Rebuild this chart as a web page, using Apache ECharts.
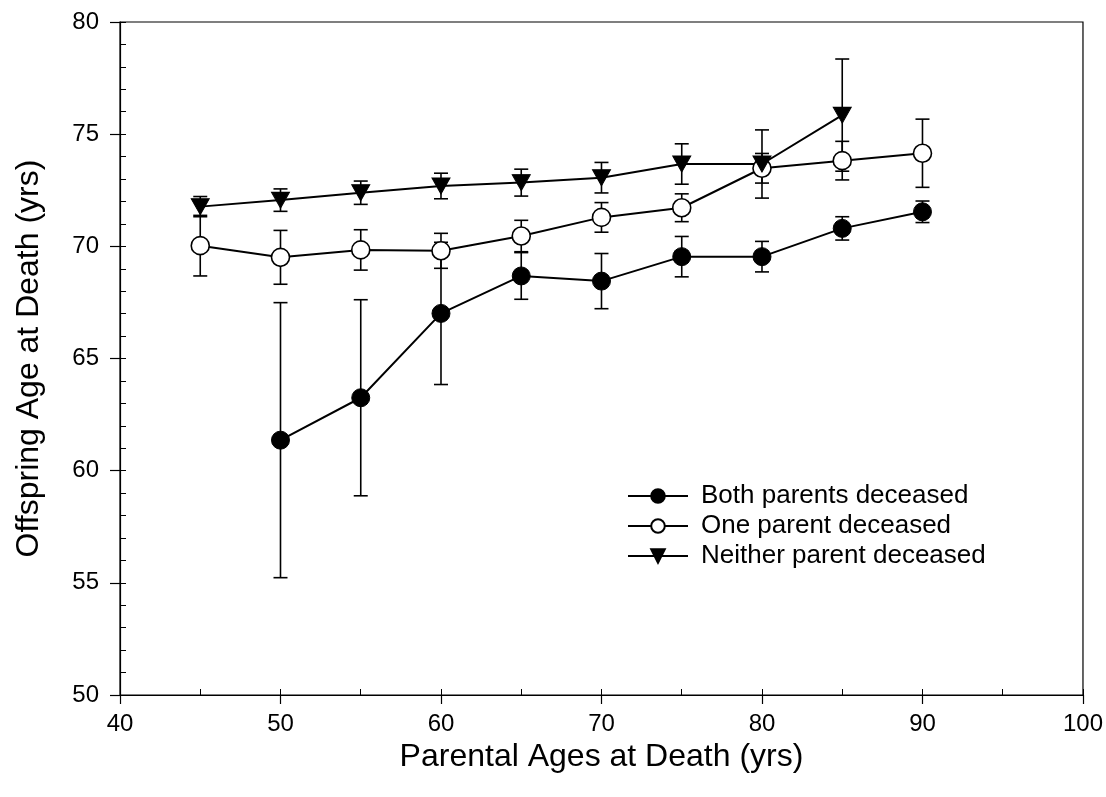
<!DOCTYPE html>
<html>
<head>
<meta charset="utf-8">
<script src="https://cdn.jsdelivr.net/npm/echarts@6/dist/echarts.min.js"></script>
<style>
html,body{margin:0;padding:0;background:#fff;}
#chart{width:1106px;height:797px;}
</style>
</head>
<body>
<div id="chart"></div>
<script>
const xVals = [45, 50, 55, 60, 65, 70, 75, 80, 85, 90];
const bothX = [50, 55, 60, 65, 70, 75, 80, 85, 90];
const bothVals = [61.36, 63.25, 67.01, 68.68, 68.45, 69.54, 69.54, 70.80, 71.54];
const bothErr = [6.13, 4.37, 3.17, 1.04, 1.23, 0.90, 0.68, 0.52, 0.48];
const oneVals = [70.03, 69.51, 69.84, 69.80, 70.46, 71.29, 71.72, 73.48, 73.82, 74.15];
const oneErr = [1.35, 1.20, 0.90, 0.78, 0.70, 0.66, 0.62, 0.66, 0.86, 1.52];
const neitherX = [45, 50, 55, 60, 65, 70, 75, 80, 85];
const neitherVals = [71.77, 72.06, 72.39, 72.69, 72.84, 73.06, 73.67, 73.67, 75.85];
const neitherErr = [0.45, 0.50, 0.52, 0.57, 0.60, 0.68, 0.90, 1.52, 2.50];
const seriesNames = ['Both parents deceased', 'One parent deceased', 'Neither parent deceased'];

const FONT = '"Liberation Sans", Arial, sans-serif';

function pairs(xs, ys) { return xs.map((x, i) => [x, ys[i]]); }
function errData(xs, ys, es) { return xs.map((x, i) => [x, ys[i] - es[i], ys[i] + es[i]]); }

function errSeries(data) {
  return {
    type: 'custom',
    xAxisIndex: 0, yAxisIndex: 0,
    silent: true,
    z: 1,
    data: data,
    renderItem: function (params, api) {
      const x = api.value(0);
      const lo = api.coord([x, api.value(1)]);
      const hi = api.coord([x, api.value(2)]);
      const w = 7;
      const st = { stroke: '#000', lineWidth: 1.6 };
      return {
        type: 'group',
        children: [
          { type: 'line', shape: { x1: lo[0], y1: lo[1], x2: hi[0], y2: hi[1] }, style: st },
          { type: 'line', shape: { x1: lo[0] - w, y1: lo[1], x2: lo[0] + w, y2: lo[1] }, style: st },
          { type: 'line', shape: { x1: hi[0] - w, y1: hi[1], x2: hi[0] + w, y2: hi[1] }, style: st }
        ]
      };
    }
  };
}

const chart = echarts.init(document.getElementById('chart'), null, { renderer: 'canvas' });
const gridPos = { left: 120, right: 23, top: 22, bottom: 102 };

chart.setOption({
  backgroundColor: '#fff',
  animation: false,
  grid: Object.assign({ show: true, borderColor: '#000', borderWidth: 1.2, backgroundColor: 'transparent' }, gridPos),
  legend: {
    data: seriesNames,
    orient: 'vertical',
    left: 622,
    top: 478,
    itemWidth: 60,
    itemHeight: 17,
    itemGap: 4,
    textStyle: { fontFamily: FONT, fontSize: 26, lineHeight: 26, color: '#000', padding: [0, 0, 0, 8] },
    selectedMode: false
  },
  xAxis: [
    {
      type: 'value', min: 40, max: 100, interval: 10,
      name: 'Parental Ages at Death (yrs)',
      nameLocation: 'middle', nameGap: 42,
      nameTextStyle: { fontFamily: FONT, fontSize: 32, color: '#000' },
      axisLine: { show: true, lineStyle: { color: '#000', width: 1.2 } },
      axisTick: { show: true, inside: false, length: 9, lineStyle: { color: '#000', width: 1.2 } },
      axisLabel: { fontFamily: FONT, fontSize: 24, color: '#000', margin: 17 },
      splitLine: { show: false }
    },
    {
      type: 'value', min: 40, max: 100, interval: 5,
      position: 'bottom',
      axisLine: { show: false },
      axisTick: { show: true, inside: true, length: 6, lineStyle: { color: '#000', width: 1 } },
      axisLabel: { show: false },
      splitLine: { show: false }
    }
  ],
  yAxis: [
    {
      type: 'value', min: 50, max: 80, interval: 5,
      name: 'Offspring Age at Death (yrs)',
      nameLocation: 'middle', nameGap: 75,
      nameTextStyle: { fontFamily: FONT, fontSize: 32, color: '#000' },
      axisLine: { show: true, lineStyle: { color: '#000', width: 1.2 } },
      axisTick: { show: true, inside: false, length: 10, lineStyle: { color: '#000', width: 1.2 } },
      axisLabel: { fontFamily: FONT, fontSize: 24, color: '#000', margin: 21 },
      splitLine: { show: false }
    },
    {
      type: 'value', min: 50, max: 80, interval: 1,
      position: 'left',
      axisLine: { show: false },
      axisTick: { show: true, inside: true, length: 6, lineStyle: { color: '#000', width: 1 } },
      axisLabel: { show: false },
      splitLine: { show: false }
    }
  ],
  series: [
    errSeries(errData(bothX, bothVals, bothErr)),
    errSeries(errData(xVals, oneVals, oneErr)),
    errSeries(errData(neitherX, neitherVals, neitherErr)),
    {
      name: seriesNames[0], type: 'line', z: 3,
      data: pairs(bothX, bothVals),
      symbol: 'circle', symbolSize: 18,
      lineStyle: { color: '#000', width: 2 },
      itemStyle: { color: '#000', borderColor: '#000', borderWidth: 1 }
    },
    {
      name: seriesNames[1], type: 'line', z: 3,
      data: pairs(xVals, oneVals),
      symbol: 'circle', symbolSize: 18,
      lineStyle: { color: '#000', width: 2 },
      itemStyle: { color: '#fff', borderColor: '#000', borderWidth: 1.6 }
    },
    {
      name: seriesNames[2], type: 'line', z: 3,
      data: pairs(neitherX, neitherVals),
      symbol: 'triangle', symbolSize: [18, 16], symbolRotate: 180,
      lineStyle: { color: '#000', width: 2 },
      itemStyle: { color: '#000', borderColor: '#000', borderWidth: 1 }
    }
  ]
});
</script>
</body>
</html>
